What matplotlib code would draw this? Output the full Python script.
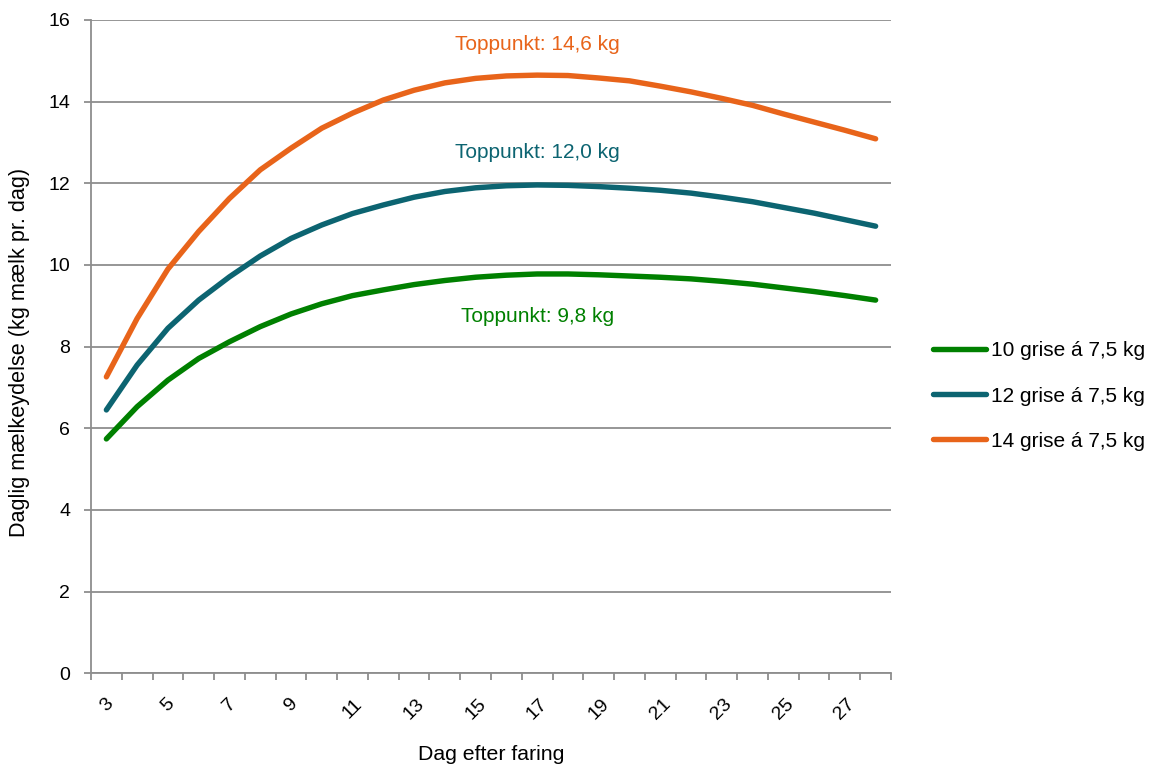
import matplotlib
matplotlib.use("Agg")
import matplotlib.pyplot as plt
from matplotlib.ticker import FixedLocator, NullFormatter

plt.rcParams['font.family'] = ['Liberation Sans', 'DejaVu Sans']

days = list(range(3, 29))
tick_labels = [str(d) for d in range(3, 29, 2)]

series_names = ["10 grise á 7,5 kg", "12 grise á 7,5 kg", "14 grise á 7,5 kg"]
green_10 = [5.74, 6.53, 7.18, 7.71, 8.12, 8.49, 8.80, 9.05, 9.25, 9.39, 9.52, 9.62, 9.70,
            9.75, 9.78, 9.78, 9.76, 9.73, 9.70, 9.66, 9.60, 9.53, 9.44, 9.35, 9.25, 9.14]
teal_12 = [6.45, 7.55, 8.45, 9.14, 9.71, 10.22, 10.65, 10.98, 11.26, 11.47, 11.66, 11.80, 11.89,
           11.94, 11.96, 11.95, 11.92, 11.88, 11.83, 11.76, 11.66, 11.55, 11.41, 11.27, 11.11, 10.95]
orange_14 = [7.26, 8.69, 9.90, 10.82, 11.63, 12.33, 12.86, 13.35, 13.72, 14.04, 14.28, 14.46, 14.57,
             14.63, 14.65, 14.64, 14.58, 14.51, 14.38, 14.24, 14.08, 13.91, 13.70, 13.50, 13.30, 13.09]

peak_labels = ["Toppunkt: 9,8 kg", "Toppunkt: 12,0 kg", "Toppunkt: 14,6 kg"]
peak_day = 17
peak_label_y = [8.61, 12.63, 15.27]

colors = ["#008000", "#0C6471", "#E8641A"]
grid_color = "#8E8E8E"

W, H = 1157, 769
fig = plt.figure(figsize=(W / 100, H / 100), dpi=100)
ax = fig.add_axes([91 / W, 1 - 673.3 / H, 800 / W, (673.3 - 20) / H])

x = list(range(len(days)))
for vals, name, c in zip([green_10, teal_12, orange_14], series_names, colors):
    ax.plot(x, vals, color=c, lw=3.9, solid_capstyle='round', solid_joinstyle='round', label=name)

for lab, yv, c in zip(peak_labels, peak_label_y, colors):
    ax.text(days.index(peak_day), yv, lab, color=c, fontsize=15, ha='center', va='baseline')

ax.set_xlim(-0.5, len(days) - 0.5)
ax.set_ylim(0, 16)
ax.set_yticks(range(0, 17, 2))
ax.yaxis.grid(True, color=grid_color, lw=1.3)
ax.set_axisbelow(True)

# x ticks: labels at every other category, tick marks at category boundaries
label_pos = [days.index(int(t)) for t in tick_labels]
ax.xaxis.set_major_locator(FixedLocator(label_pos))
ax.set_xticklabels(tick_labels, rotation=45, ha='center', va='top', fontsize=14)
ax.xaxis.set_minor_locator(FixedLocator([i - 0.5 for i in range(len(days) + 1)]))
ax.xaxis.set_minor_formatter(NullFormatter())
ax.tick_params(axis='x', which='major', length=0, pad=16)
ax.tick_params(axis='x', which='minor', length=5.3, width=1.3, color=grid_color)
ax.tick_params(axis='y', length=5.3, width=1.3, color=grid_color, pad=9.6, labelsize=14)

for s in ['top', 'right']:
    ax.spines[s].set_visible(False)
for s in ['left', 'bottom']:
    ax.spines[s].set_color(grid_color)
    ax.spines[s].set_linewidth(1.3)

fig.text(20 / W, 1 - 352 / H, "Daglig mælkeydelse (kg mælk pr. dag)", rotation=90,
         ha='center', va='center', fontsize=15.6)
fig.text(491 / W, 1 - 755 / H, "Dag efter faring", ha='center', va='center', fontsize=15.3)

leg = ax.legend(loc='center left', bbox_to_anchor=(933 / W, 1 - 396 / H),
                bbox_transform=fig.transFigure, frameon=False, fontsize=15,
                handlelength=2.55, handletextpad=0.25, labelspacing=1.25,
                borderpad=0, borderaxespad=0)

fig.savefig("out.png", dpi=100)
